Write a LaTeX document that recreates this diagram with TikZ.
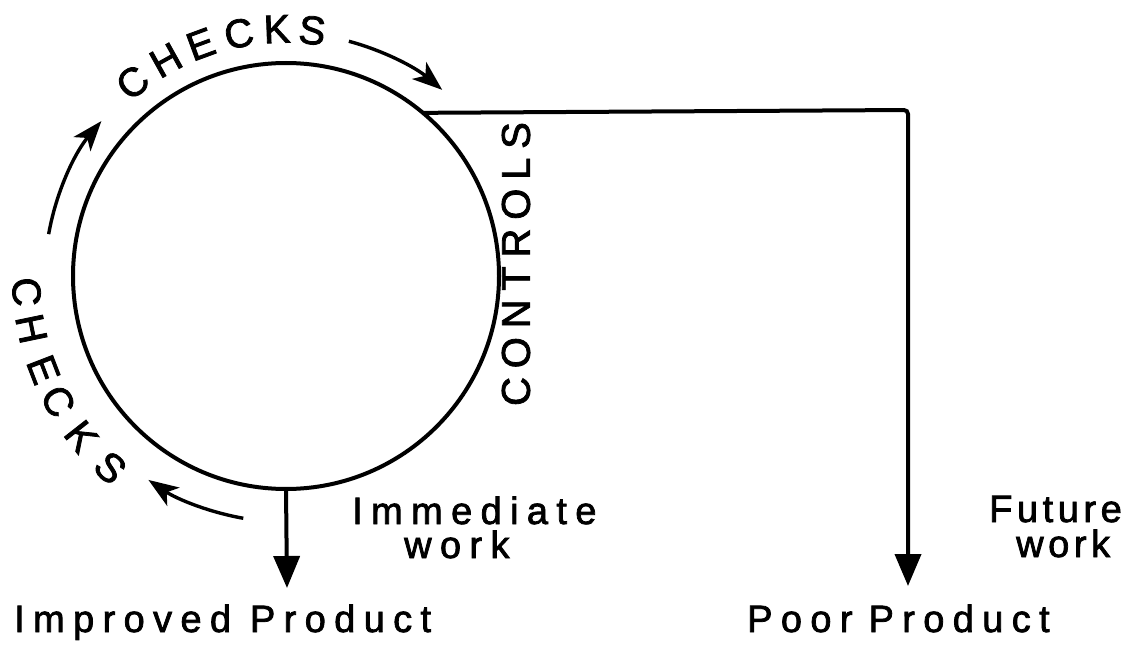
\documentclass[tikz,border=0pt]{standalone}
\usepackage{fontspec}
\setmainfont{Liberation Sans}[FakeBold=2]
\newfontfamily\widefont{Liberation Sans}[LetterSpace=22,FakeBold=2]
\newfontfamily\midfont{Liberation Sans}[LetterSpace=12,FakeBold=2]
\usetikzlibrary{arrows.meta}
\begin{document}
\begin{tikzpicture}[x=1pt,y=1pt,
  stroke/.style={line width=4pt},
  thinstroke/.style={line width=3.4pt},
  lbl/.style={font=\widefont\fontsize{38}{44}\selectfont, inner sep=0pt},
  rlbl/.style={font=\midfont\fontsize{38}{44}\selectfont, inner sep=0pt},
  let/.style={font=\fontsize{40}{46}\selectfont, inner sep=0pt},
  bigtip/.style={-{Triangle[length=32pt,width=26pt]}},
  curvtip/.style={-{Stealth[length=30pt,width=22pt,inset=8pt]}}]
\useasboundingbox (0,0) rectangle (1127,-647);
\node[draw, circle, stroke, minimum size=426pt, inner sep=0pt, outer sep=0pt] (loop) at (286,-276) {};
% top CHECKS
\foreach \a/\c [count=\i] in {128.4/C,119.1/H,110.2/E,101.0/C,92.1/K,83.9/S}
  \node[let, rotate=\a-90] (t\i) at ([shift={(\a:247pt)}]loop.center) {\c};
% left CHECKS
\foreach \a/\c [count=\i] in {183.5/C,191.7/H,201.1/E,208.8/C,218.1/K,227.5/S}
  \node[let, rotate=\a+90] (l\i) at ([shift={(\a:260pt)}]loop.center) {\c};
% CONTROLS
\node[lbl, font=\widefont\fontsize{40}{46}\selectfont, rotate=90] (controls) at (516,-264) {CONTROLS};
% curved arrows
\draw[thinstroke, curvtip] ([shift={(75:243pt)}]loop.center) arc[start angle=75, end angle=50, radius=243pt];
\draw[thinstroke, curvtip] ([shift={(170:241pt)}]loop.center) arc[start angle=170, end angle=140, radius=241pt];
\draw[thinstroke, curvtip] ([shift={(260:246pt)}]loop.center) arc[start angle=260, end angle=236, radius=246pt];
% output arrows
\coordinate (itip) at (287,-588);
\draw[stroke, bigtip] (loop.south) -- (itip);
\coordinate (corner) at (908,-110);
\coordinate (ptip) at (908,-586);
\draw[stroke, bigtip, rounded corners=4pt] (loop.50) -- (corner) -- (ptip);
% labels
\node[lbl, anchor=base west] (improved) at (14,-632) {Improved Product};
\node[lbl, anchor=base west] (poor) at (747,-632) {Poor\hspace{16pt}Product};
\node[lbl, anchor=base west] (imm) at (352,-524) {Immediate};
\node[lbl, anchor=base west] (immw) at (404,-558) {work};
\node[rlbl, anchor=base east] (fut) at (1122,-522) {Future};
\node[rlbl, anchor=base west] (futw) at (1016,-557) {work};
\end{tikzpicture}
\end{document}
